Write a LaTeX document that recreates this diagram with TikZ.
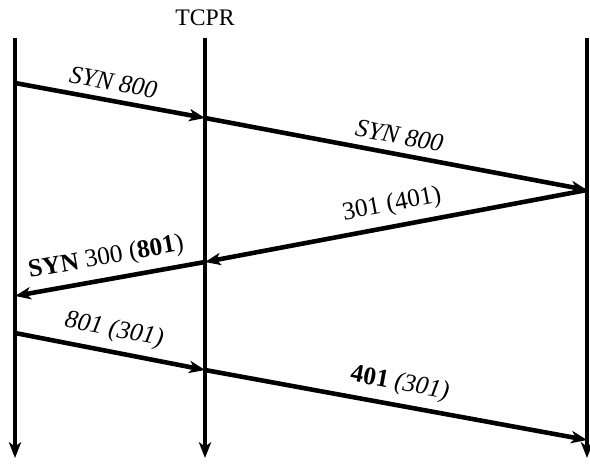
\documentclass[tikz,border=0pt]{standalone}
\usepackage{fontspec}
\setmainfont{Liberation Serif}
\usetikzlibrary{arrows.meta}

\tikzset{
  lifeline/.style={line width=2.6pt, -{Stealth[length=9pt,width=7pt,inset=2.5pt]}},
  msg/.style={line width=2.6pt, -{Stealth[length=9pt,width=7pt,inset=2.5pt]}},
  msglabel/.style={sloped, above=1pt, font=\fontsize{14.5}{16}\selectfont}
}

\begin{document}
\begin{tikzpicture}[x=0.02cm, y=0.02cm]
  \useasboundingbox (0,0) rectangle (590,466);

  % lifelines
  \coordinate (ltop) at (15,428);   \coordinate (lbot) at (15,8);
  \coordinate (mtop) at (205,428);  \coordinate (mbot) at (205,8);
  \coordinate (rtop) at (587,428);  \coordinate (rbot) at (587,8);
  \draw[lifeline] (ltop) -- (lbot);
  \draw[lifeline] (mtop) -- (mbot);
  \draw[lifeline] (rtop) -- (rbot);
  \node[font=\fontsize{13.5}{15}\selectfont] (tcpr) at (205,448) {TCPR};

  % events
  \coordinate (l1) at (15,383);
  \coordinate (m1) at (205,348);
  \coordinate (r1) at (587,276);
  \coordinate (m2) at (205,204);
  \coordinate (l2) at (15,170);
  \coordinate (l3) at (15,133);
  \coordinate (m3) at (205,96);
  \coordinate (r3) at (587,26);

  % messages
  \draw[msg] (l1) -- node[msglabel] {\textit{SYN 800}} (m1);
  \draw[msg] (m1) -- node[msglabel] {\textit{SYN 800}} (r1);
  \draw[msg] (r1) -- node[msglabel] {301 (401)} (m2);
  \draw[msg] (m2) -- node[msglabel] {\textbf{SYN} 300 (\textbf{801})} (l2);
  \draw[msg] (l3) -- node[msglabel] {\textit{801 (301)}} (m3);
  \draw[msg] (m3) -- node[msglabel] {\textbf{401} \textit{(301)}} (r3);
\end{tikzpicture}
\end{document}
